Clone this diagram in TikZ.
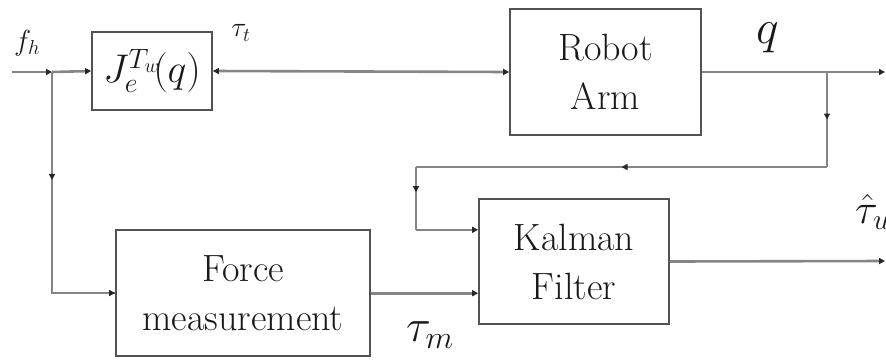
\RequirePackage{fix-cm}
\documentclass[tikz,border=0pt]{standalone}
\usepackage{amsmath}
\usetikzlibrary{arrows.meta,calc,decorations.markings}

\tikzset{
  blk/.style={draw=black!68, line width=1.8pt, minimum width=#1, inner sep=0pt,
              align=center, text=black!90, font=\fontsize{38}{49}\selectfont},
  conn/.style={draw=black!48, line width=2.6pt},
  tip/.tip={Triangle[length=6pt,width=6pt,color=black!85]},
  to tip/.style={conn, -tip},
  both tips/.style={conn, tip-tip},
  midtip/.style={postaction={decorate}, decoration={markings,
      mark=at position #1 with {\arrow{tip}}}},
  sig/.style={text=black!90, inner sep=0pt},
}

\begin{document}
\begin{tikzpicture}[x=1pt, y=-1pt]
  \useasboundingbox (0,0) rectangle (886,360);

  % blocks
  \node[blk=120pt, minimum height=78pt] (J) at (152,71)
    {\fontsize{40}{50}\selectfont$J_{e}^{T_{w}}\!(q)$};
  \node[blk=191pt, minimum height=126pt] (R) at (605.5,72) {Robot\\Arm};
  \node[blk=190pt, minimum height=125pt] (K) at (574,261.5) {Kalman\\Filter};
  \node[blk=254pt, minimum height=126pt] (F) at (243,293) {Force\\measurement};

  % branch points and free ends
  \coordinate (fin) at (12,72);
  \coordinate (j1) at (52,72);
  \coordinate (j2) at (827,72);
  \coordinate (qout) at (885,72);
  \coordinate (c1) at (827,167);
  \coordinate (c2) at (416,167);
  \coordinate (kin1) at ($(K.north west)!0.25!(K.south west)$);
  \coordinate (kin2) at ($(K.north west)!0.75!(K.south west)$);
  \coordinate (tuout) at (885,261);

  % forward path
  \draw[to tip] (fin) -- (j1);
  \draw[to tip] (j1) -- (J.west);
  \draw[both tips] (J.east) -- (R.west);
  \draw[conn] (R.east) -- (j2);
  \draw[to tip] (j2) -- (qout);

  % force measurement branch
  \draw[conn, midtip=0.38] (j1) |- (F.west);
  \draw[to tip] (j1 |- F.west) -- (F.west);
  \draw[to tip] (F.east |- kin2) -- (kin2);

  % joint feedback into the filter
  \draw[conn, midtip=0.5] (j2) -- (c1);
  \draw[conn, midtip=0.5] (c1) -- (c2);
  \draw[conn, midtip=0.4] (c2) -- (c2 |- kin1);
  \draw[to tip] (c2 |- kin1) -- (kin1);

  % estimate output
  \draw[to tip] (K.east) -- (tuout);

  % signal labels
  \node[sig, font=\fontsize{29}{29}\selectfont] (lfh) at (27,43) {$f_{h}$};
  \node[sig, font=\fontsize{28}{28}\selectfont] (ltt) at (241,33) {$\tau_{t}$};
  \node[sig, font=\fontsize{48}{48}\selectfont] (lq) at (768,38) {$q$};
  \node[sig, font=\fontsize{46}{46}\selectfont] (ltm) at (430,335) {$\tau_{m}$};
  \node[sig, font=\fontsize{42}{42}\selectfont, anchor=west] (ltu) at (855,212)
    {$\hat{\tau}_{u}$};
\end{tikzpicture}
\end{document}
